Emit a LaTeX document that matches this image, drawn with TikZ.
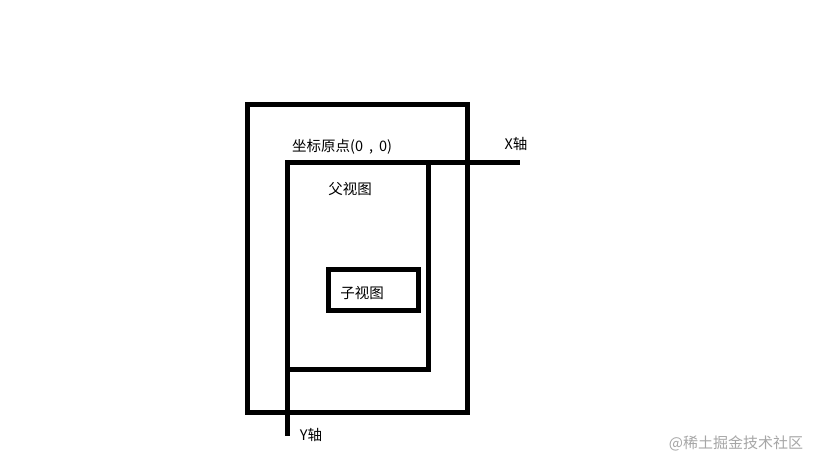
\documentclass[tikz,border=0pt]{standalone}
\usepackage{fontspec}
\setmainfont{Noto Sans CJK SC}
\begin{document}
\begin{tikzpicture}[x=1pt,y=-1pt,
  box/.style={draw=black,line width=5pt},
  axis/.style={draw=black,line width=5pt},
  lbl/.style={inner sep=0pt,font=\fontsize{14.5}{17}\selectfont},
  wm/.style={inner sep=0pt,text=black!35,font=\fontsize{15}{18}\selectfont}]
\useasboundingbox (0,0) rectangle (819,460);
\fill[white] (0,0) rectangle (819,460);
% outer screen rectangle
\draw[box] (247,104) rectangle (467,412);
% parent view
\coordinate (o) at (287,162);
\coordinate (xend) at (520,162);
\coordinate (yend) at (287,436);
\draw[box] (o) rectangle (428,369);
% child view
\node[box,minimum width=90pt,minimum height=41.5pt,inner sep=0pt] (child) at (373,289.75) {};
% axes
\draw[axis] (o) -- (xend);
\draw[axis] (o) -- (yend);
% labels
\node[lbl,anchor=west] (origin) at (292,147) {坐标原点(0\hspace{6pt},\hspace{6pt}0)};
\node[lbl] (parent) at (350,189) {父视图};
\node[lbl] (childlbl) at (362,293) {子视图};
\node[lbl] (xlbl) at (516,144) {X轴};
\node[lbl] (ylbl) at (311,435) {Y轴};
\node[wm] (wmark) at (736,443) {@稀土掘金技术社区};
\end{tikzpicture}
\end{document}
